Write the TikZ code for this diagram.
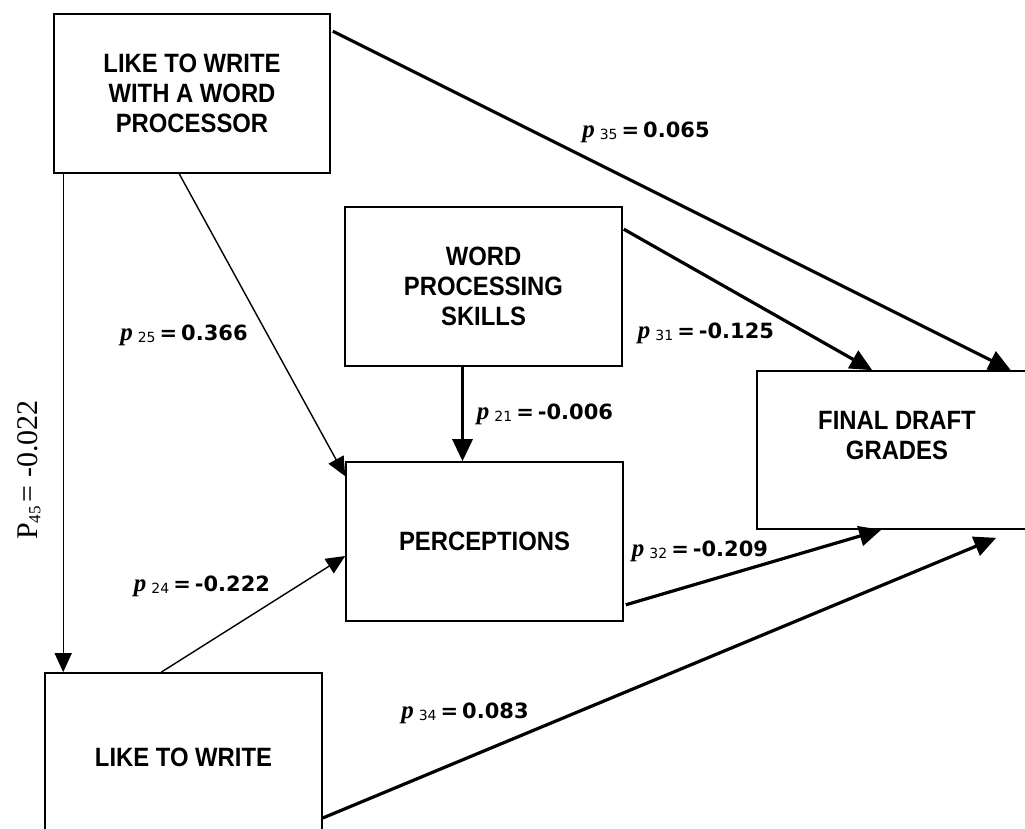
\documentclass[tikz,border=0pt]{standalone}
\usepackage{fontspec}
\usetikzlibrary{arrows.meta,calc}
\newfontfamily\boxfont[FakeStretch=0.9]{Liberation Sans}
\newfontfamily\numfont{DejaVu Sans}
\newfontfamily\pfont{Liberation Serif}
\newfontfamily\serfont{Liberation Serif}

% path coefficient label: italic p, small subscript, bold value
\newcommand{\pcoef}[2]{%
  {\pfont\bfseries\itshape\fontsize{25}{25}\selectfont p}\hspace{5pt}%
  \raisebox{-2pt}{\numfont\mdseries\fontsize{14}{14}\selectfont #1}\hspace{4pt}%
  {\numfont\bfseries =\hspace{4pt}#2}}

\tikzset{
  box/.style={draw, line width=1.6pt, inner sep=0pt, align=center,
    font=\boxfont\bfseries\fontsize{26.5}{30}\selectfont},
  boxtext/.style={inner sep=0pt, align=center,
    font=\boxfont\bfseries\fontsize{26.5}{30}\selectfont},
  heavy/.style={line width=3.2pt, -{Triangle[length=22pt,width=20pt]}},
  light/.style={line width=1.4pt, -{Triangle[length=19pt,width=17pt]}},
  coef/.style={inner sep=0pt, font=\numfont\bfseries\fontsize{21}{21}\selectfont},
}

\begin{document}
\begin{tikzpicture}[x=1pt,y=-1pt]
  \clip (0,0) rectangle (1025,828);
  \fill[white] (0,0) rectangle (1025,828);

  % variables
  \node[box, minimum width=276pt, minimum height=159pt] (lwp) at (192,93.5)
    {LIKE TO WRITE\\WITH A WORD\\PROCESSOR};
  \node[box, minimum width=277pt, minimum height=159pt] (wps) at (483.5,286.5)
    {WORD\\PROCESSING\\SKILLS};
  \node[box, minimum width=277pt, minimum height=159pt] (perc) at (484.5,541.5)
    {PERCEPTIONS};
  \node[box, minimum width=277pt, minimum height=168pt] (ltw) at (183.5,757)
    {LIKE TO WRITE};
  \node[box, minimum width=280pt, minimum height=158pt] (fdg) at (897,450) {};
  \node[boxtext] (fdgtext) at (897,436) {FINAL DRAFT\\GRADES};

  % paths
  \draw[heavy] ($(lwp.north east)+(2,18)$) -- ($(fdg.north east)+(-27,0)$);
  \draw[heavy] ($(wps.north east)+(1,23)$) -- ($(fdg.north west)+(116,0)$);
  \draw[heavy] ($(wps.south)+(-21,0)$) -- ($(perc.north)+(-22,0)$);
  \draw[light] ($(lwp.south west)+(126,0)$) -- ($(perc.north west)+(0,15)$);
  \draw[light] ($(lwp.south west)+(10,0)$) -- ($(ltw.north west)+(19,0)$);
  \draw[light] ($(ltw.north west)+(117,0)$) -- ($(perc.west)+(0,14.5)$);
  \draw[heavy] ($(perc.south east)+(2,-17)$) -- ($(fdg.south west)+(125,0)$);
  \coordinate (gradesbelow) at ($(fdg.south west)+(240,8)$);
  \draw[heavy] ($(ltw.east)+(0,61)$) -- (gradesbelow);

  % coefficients
  \node[coef] (c35) at (646,132) {\pcoef{35}{0.065}};
  \node[coef] (c25) at (184,335) {\pcoef{25}{0.366}};
  \node[coef] (c31) at (706,333) {\pcoef{31}{-0.125}};
  \node[coef] (c21) at (545,414) {\pcoef{21}{-0.006}};
  \node[coef] (c24) at (202,586) {\pcoef{24}{-0.222}};
  \node[coef] (c32) at (700,551) {\pcoef{32}{-0.209}};
  \node[coef] (c34) at (465,713) {\pcoef{34}{0.083}};
  \node[inner sep=0pt, rotate=90, font=\serfont\fontsize{30}{30}\selectfont] (c45) at (29,470)
    {P\raisebox{-3pt}{\fontsize{17}{17}\selectfont 45}\hspace{4pt}= -0.022};
\end{tikzpicture}
\end{document}
